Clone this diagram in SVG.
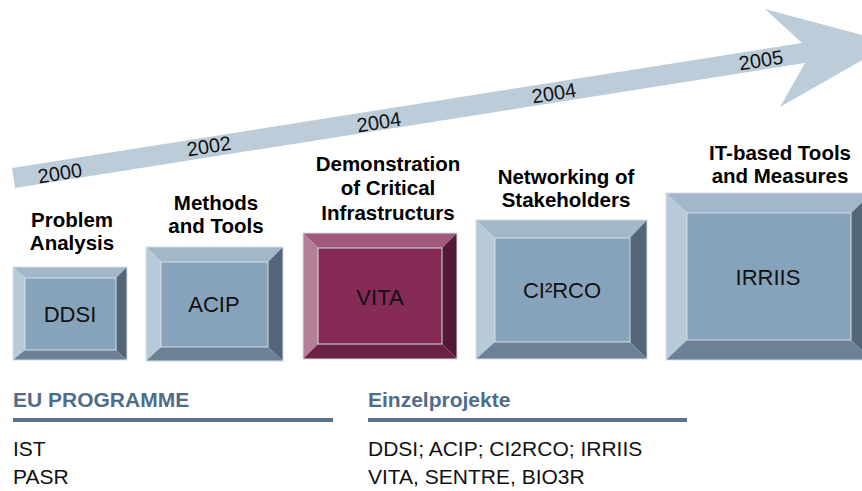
<svg xmlns="http://www.w3.org/2000/svg" width="862" height="491" viewBox="0 0 862 491">
<style>
.lbl{font-family:"Liberation Sans",Arial,sans-serif;font-weight:bold;font-size:20.5px;fill:#000;text-anchor:middle}
.box{font-family:"Liberation Sans",Arial,sans-serif;font-size:22px;fill:#111;text-anchor:middle}
.yr{font-family:"Liberation Sans",Arial,sans-serif;font-size:20px;fill:#111;text-anchor:middle}
.hd{font-family:"Liberation Sans",Arial,sans-serif;font-weight:bold;font-size:21px;fill:#4f6c89}
.tx{font-family:"Liberation Sans",Arial,sans-serif;font-size:21px;fill:#111}
.bt{fill:#a3b7ca}.bl{fill:#b8c9d8}.bi{fill:#87a3bb}.br{fill:#536577}.bb{fill:#6c8195}
.vt{fill:#a25a7c}.vl{fill:#b47e97}.vi{fill:#862b55}.vr{fill:#521a36}.vb{fill:#6c2245}
.edge{fill:none;stroke:#d3dde7;stroke-width:1}
</style>
<rect width="862" height="491" fill="#fff"/>
<g id="timeline">
<polygon points="12,168 802,43 765,9 892,43 780,107 805,63 15,188" fill="#bccdd9"/>
<text class="yr" transform="translate(61,180) rotate(-9)">2000</text>
<text class="yr" transform="translate(210,153) rotate(-9)">2002</text>
<text class="yr" transform="translate(380,129) rotate(-9)">2004</text>
<text class="yr" transform="translate(555,100) rotate(-9)">2004</text>
<text class="yr" transform="translate(762,67) rotate(-9)">2005</text>
</g>
<g id="ddsi">
<polygon class="bt" points="13,267 127,267 116,278 25,278"/>
<polygon class="bl" points="13,267 25,278 25,350 13,360"/>
<polygon class="br" points="127,267 127,360 116,350 116,278"/>
<polygon class="bb" points="13,360 25,350 116,350 127,360"/>
<rect class="bi" x="25" y="278" width="91" height="72"/>
<rect class="edge" x="13" y="267" width="114" height="93"/>
<rect class="edge" x="25" y="278" width="91" height="72"/>
<text class="lbl" x="72" y="227">Problem</text>
<text class="lbl" x="72" y="250">Analysis</text>
<text class="box" x="70" y="322">DDSI</text>
</g>
<g id="acip">
<polygon class="bt" points="146,247 283,247 268,262 161,262"/>
<polygon class="bl" points="146,247 161,262 161,347 146,361"/>
<polygon class="br" points="283,247 283,361 268,347 268,262"/>
<polygon class="bb" points="146,361 161,347 268,347 283,361"/>
<rect class="bi" x="161" y="262" width="107" height="85"/>
<rect class="edge" x="146" y="247" width="137" height="114"/>
<rect class="edge" x="161" y="262" width="107" height="85"/>
<text class="lbl" x="216" y="210">Methods</text>
<text class="lbl" x="216" y="233">and Tools</text>
<text class="box" x="214" y="312">ACIP</text>
</g>
<g id="vita">
<polygon class="vt" points="303,233 457,233 442,248 318,248"/>
<polygon class="vl" points="303,233 318,248 318,344 303,359"/>
<polygon class="vr" points="457,233 457,359 442,344 442,248"/>
<polygon class="vb" points="303,359 318,344 442,344 457,359"/>
<rect class="vi" x="318" y="248" width="124" height="96"/>
<rect class="edge" x="303" y="233" width="154" height="126"/>
<rect class="edge" x="318" y="248" width="124" height="96"/>
<text class="lbl" x="388" y="171">Demonstration</text>
<text class="lbl" x="388" y="195">of Critical</text>
<text class="lbl" x="388" y="220">Infrastructurs</text>
<text class="box" x="380" y="305">VITA</text>
</g>
<g id="ci2rco">
<polygon class="bt" points="476,220 647,220 630,238 495,238"/>
<polygon class="bl" points="476,220 495,238 495,342 476,359"/>
<polygon class="br" points="647,220 647,359 630,342 630,238"/>
<polygon class="bb" points="476,359 495,342 630,342 647,359"/>
<rect class="bi" x="495" y="238" width="135" height="104"/>
<rect class="edge" x="476" y="220" width="171" height="139"/>
<rect class="edge" x="495" y="238" width="135" height="104"/>
<text class="lbl" x="566" y="184">Networking of</text>
<text class="lbl" x="566" y="207">Stakeholders</text>
<text class="box" x="562" y="298">CI²RCO</text>
</g>
<g id="irriis">
<polygon class="bt" points="666,193 872,193 851,213 687,213"/>
<polygon class="bl" points="666,193 687,213 687,340 666,360"/>
<polygon class="br" points="872,193 872,360 851,340 851,213"/>
<polygon class="bb" points="666,360 687,340 851,340 872,360"/>
<rect class="bi" x="687" y="213" width="164" height="127"/>
<rect class="edge" x="666" y="193" width="206" height="167"/>
<rect class="edge" x="687" y="213" width="164" height="127"/>
<text class="lbl" x="780" y="160">IT-based Tools</text>
<text class="lbl" x="780" y="183">and Measures</text>
<text class="box" x="768" y="285">IRRIIS</text>
</g>
<g id="connectors"></g>
<g id="legend">
<text class="hd" x="13" y="407">EU PROGRAMME</text>
<line x1="13" y1="420" x2="333" y2="420" stroke="#58738e" stroke-width="4"/>
<text class="hd" x="368" y="407">Einzelprojekte</text>
<line x1="368" y1="420" x2="687" y2="420" stroke="#58738e" stroke-width="4"/>
<text class="tx" x="13" y="456">IST</text>
<text class="tx" x="13" y="484">PASR</text>
<text class="tx" x="368" y="456">DDSI; ACIP; CI2RCO; IRRIIS</text>
<text class="tx" x="368" y="484">VITA, SENTRE, BIO3R</text>
</g>
</svg>
